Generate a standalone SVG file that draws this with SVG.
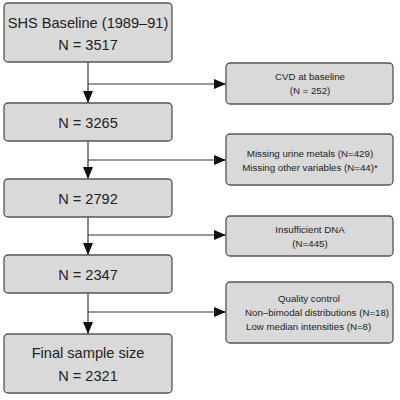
<svg xmlns="http://www.w3.org/2000/svg" width="400" height="400" viewBox="0 0 400 400">
<defs>
<marker id="ah" viewBox="0 0 12 10" refX="12" refY="5" markerWidth="12" markerHeight="10" markerUnits="userSpaceOnUse" orient="auto">
<path d="M0,0 L12,5 L0,10 Z" fill="#111"/>
</marker>
<style>
.box{fill:#d9d9d9;stroke:#555;stroke-width:1.3}
.big{font-family:"Liberation Sans",Arial,sans-serif;font-size:14.6px;fill:#222;text-anchor:middle}
.sm{font-family:"Liberation Sans",Arial,sans-serif;font-size:9.7px;fill:#222;text-anchor:middle}
.ln{stroke:#333;stroke-width:1.2;fill:none}
</style>
</defs>
<rect width="400" height="400" fill="#fff"/>
<g id="connectors">
<line class="ln" x1="88" y1="62" x2="88" y2="103" marker-end="url(#ah)"/>
<line class="ln" x1="88" y1="84" x2="226" y2="84" marker-end="url(#ah)"/>
<line class="ln" x1="88" y1="141" x2="88" y2="179" marker-end="url(#ah)"/>
<line class="ln" x1="88" y1="160" x2="226" y2="160" marker-end="url(#ah)"/>
<line class="ln" x1="88" y1="217" x2="88" y2="255" marker-end="url(#ah)"/>
<line class="ln" x1="88" y1="235" x2="226" y2="235" marker-end="url(#ah)"/>
<line class="ln" x1="88" y1="293" x2="88" y2="334" marker-end="url(#ah)"/>
<line class="ln" x1="88" y1="312" x2="226" y2="312" marker-end="url(#ah)"/>
</g>
<g id="n1"><rect class="box" x="4" y="3" width="168" height="59" rx="4"/>
<text class="big" x="88" y="28">SHS Baseline (1989–91)</text>
<text class="big" x="88" y="50">N = 3517</text></g>
<g id="n2"><rect class="box" x="4" y="103" width="168" height="38" rx="4"/>
<text class="big" x="88" y="128">N = 3265</text></g>
<g id="n3"><rect class="box" x="4" y="179" width="168" height="38" rx="4"/>
<text class="big" x="88" y="204">N = 2792</text></g>
<g id="n4"><rect class="box" x="4" y="255" width="168" height="38" rx="4"/>
<text class="big" x="88" y="280">N = 2347</text></g>
<g id="n5"><rect class="box" x="4" y="334" width="168" height="59" rx="4"/>
<text class="big" x="88" y="358">Final sample size</text>
<text class="big" x="88" y="381">N = 2321</text></g>
<g id="e1"><rect class="box" x="226" y="63" width="167" height="41" rx="4"/>
<text class="sm" x="310" y="80">CVD at baseline</text>
<text class="sm" x="310" y="94">(N = 252)</text></g>
<g id="e2"><rect class="box" x="226" y="134" width="167" height="51" rx="4"/>
<text class="sm" x="310" y="157">Missing urine metals (N=429)</text>
<text class="sm" x="310" y="171">Missing other variables (N=44)*</text></g>
<g id="e3"><rect class="box" x="226" y="216" width="167" height="40" rx="4"/>
<text class="sm" x="310" y="233">Insufficient DNA</text>
<text class="sm" x="310" y="247">(N=445)</text></g>
<g id="e4"><rect class="box" x="226" y="282" width="167" height="61" rx="4"/>
<text class="sm" x="309" y="302">Quality control</text>
<text class="sm" x="245" y="316" style="text-anchor:start">Non–bimodal distributions (N=18)</text>
<text class="sm" x="246" y="330" style="text-anchor:start">Low median intensities (N=8)</text></g>
</svg>
